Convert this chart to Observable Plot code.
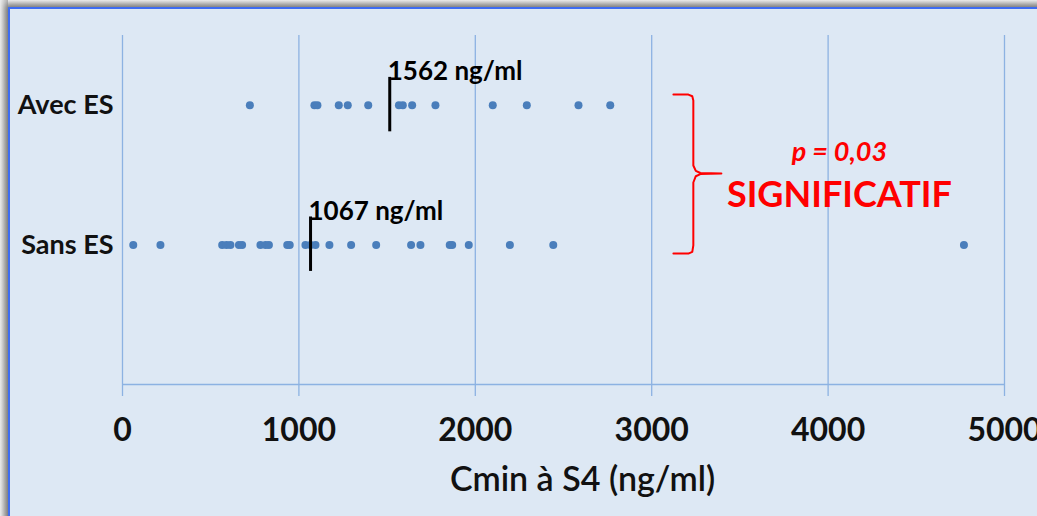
<!DOCTYPE html>
<html>
<head>
<meta charset="utf-8">
<script src="https://cdn.jsdelivr.net/npm/d3@7"></script>
<script src="https://cdn.jsdelivr.net/npm/@observablehq/plot@0.6"></script>
<style>
  html, body { margin: 0; padding: 0; width: 1037px; height: 516px; overflow: hidden; }
  body { background: linear-gradient(to bottom, #f2f2f2, #bdbdbd 7px, #bdbdbd); position: relative; font-family: Lato, "Open Sans", sans-serif; }
  #frame { position: absolute; left: 8px; top: 7px; width: 1100px; height: 600px; background: #dde8f4;
           border-top: 2px solid #3d6cf2; border-left: 2px solid #3d6cf2; box-shadow: -3px -3px 6px rgba(0,0,0,0.35); }
  #leftshade { position: absolute; left: 0; top: 0; width: 8px; height: 516px; background: linear-gradient(to right, #eeeeee, #b5b5b5); }
  #chart { position: absolute; left: 0; top: 0; }
</style>
</head>
<body>
<div id="leftshade"></div>
<div id="frame"></div>
<div id="chart"></div>
<script>
// Categories (y = 1 : Sans ES, y = 2 : Avec ES)
const categories = ["Sans ES", "Avec ES"];
const categoryPos = [1, 2];

// Cmin values (ng/ml)
const avecES = [722, 1088, 1105, 1226, 1277, 1393, 1567, 1589, 1642, 1774, 2099, 2292, 2585, 2765];
const sansES = [61, 215, 565, 590, 612, 660, 678, 782, 811, 830, 934, 948, 1037, 1066, 1094, 1173, 1296, 1438, 1636, 1689, 1855, 1869, 1963, 2196, 2442, 4770];

// Median annotations (marker position as drawn, label text)
const medianMarker = [1066, 1515];
const medianLabels = ["1067 ng/ml", "1562 ng/ml"];

// x ticks
const xTicks = [0, 1000, 2000, 3000, 4000, 5000];

// Bracket and significance annotation (data units)
const bracketX = [3123, 3208, 3230, 3236, 3236, 3250, 3276, 3395, 3276, 3250, 3236, 3236, 3230, 3208, 3123];
const bracketY = [2.077, 2.077, 2.065, 2.034, 1.569, 1.53, 1.515, 1.511, 1.507, 1.492, 1.447, 0.996, 0.95, 0.938, 0.938];
const pText = "p = 0,03";
const sigText = "SIGNIFICATIF";
const axisTitle = "Cmin à S4 (ng/ml)";

const points = [
  ...sansES.map(v => ({x: v, y: categoryPos[0]})),
  ...avecES.map(v => ({x: v, y: categoryPos[1]}))
];
const medians = medianMarker.map((m, i) => ({x: m, y: categoryPos[i], label: medianLabels[i]}));
const bracket = bracketX.map((x, i) => ({x, y: bracketY[i]}));

const gridColor = "#8cb2e2";
const font = "Lato, 'Open Sans', sans-serif";

const chart = Plot.plot({
  width: 1037,
  height: 516,
  marginLeft: 122,
  marginRight: 33,
  marginTop: 35,
  marginBottom: 132,
  style: {background: "transparent", fontFamily: font, overflow: "visible"},
  x: {domain: [0, 5000]},
  y: {domain: [0, 2.5]},
  marks: [
    Plot.ruleX(xTicks, {y1: 0, y2: 2.5, stroke: gridColor, strokeWidth: 1.3}),
    Plot.ruleY([0], {stroke: gridColor, strokeWidth: 1.3}),
    Plot.axisX({ticks: xTicks, tickSize: 12, tickPadding: 22, stroke: gridColor, strokeWidth: 1.3,
      fontSize: 32, fontWeight: "bold", fill: "#111", label: null, tickFormat: d => String(d)}),
    Plot.axisY({ticks: categoryPos, tickSize: 0, tickPadding: 9, fontSize: 27, fontWeight: "bold", fill: "#111",
      label: null, tickFormat: d => categories[categoryPos.indexOf(d)]}),
    Plot.text([axisTitle], {frameAnchor: "bottom", dy: 106, dx: 19, fontSize: 34, fontWeight: "600", fill: "#111", text: d => d}),
    Plot.dot(points, {x: "x", y: "y", r: 4, fill: "#4a7ebb", stroke: "none"}),
    Plot.ruleX(medians, {x: "x", y1: d => d.y - 0.19, y2: d => d.y + 0.2, stroke: "#000", strokeWidth: 3}),
    Plot.text(medians, {x: "x", y: d => d.y + 0.2, text: "label", textAnchor: "start", lineAnchor: "bottom",
      dx: -2, dy: 3, fontSize: 26, fontWeight: "bold", fill: "#000"}),
    Plot.line(bracket, {x: "x", y: "y", stroke: "#ff0000", strokeWidth: 2, curve: "linear", strokeLinejoin: "round"}),
    Plot.text([pText], {x: 4064, y: 1.662, text: d => d, fontSize: 27, fontWeight: "bold", fontStyle: "italic", fill: "#ff0000"}),
    Plot.text([sigText], {x: 4064, y: 1.354, text: d => d, fontSize: 36, fontWeight: "bold", fill: "#ff0000"})
  ]
});
document.getElementById("chart").appendChild(chart);
</script>
</body>
</html>
